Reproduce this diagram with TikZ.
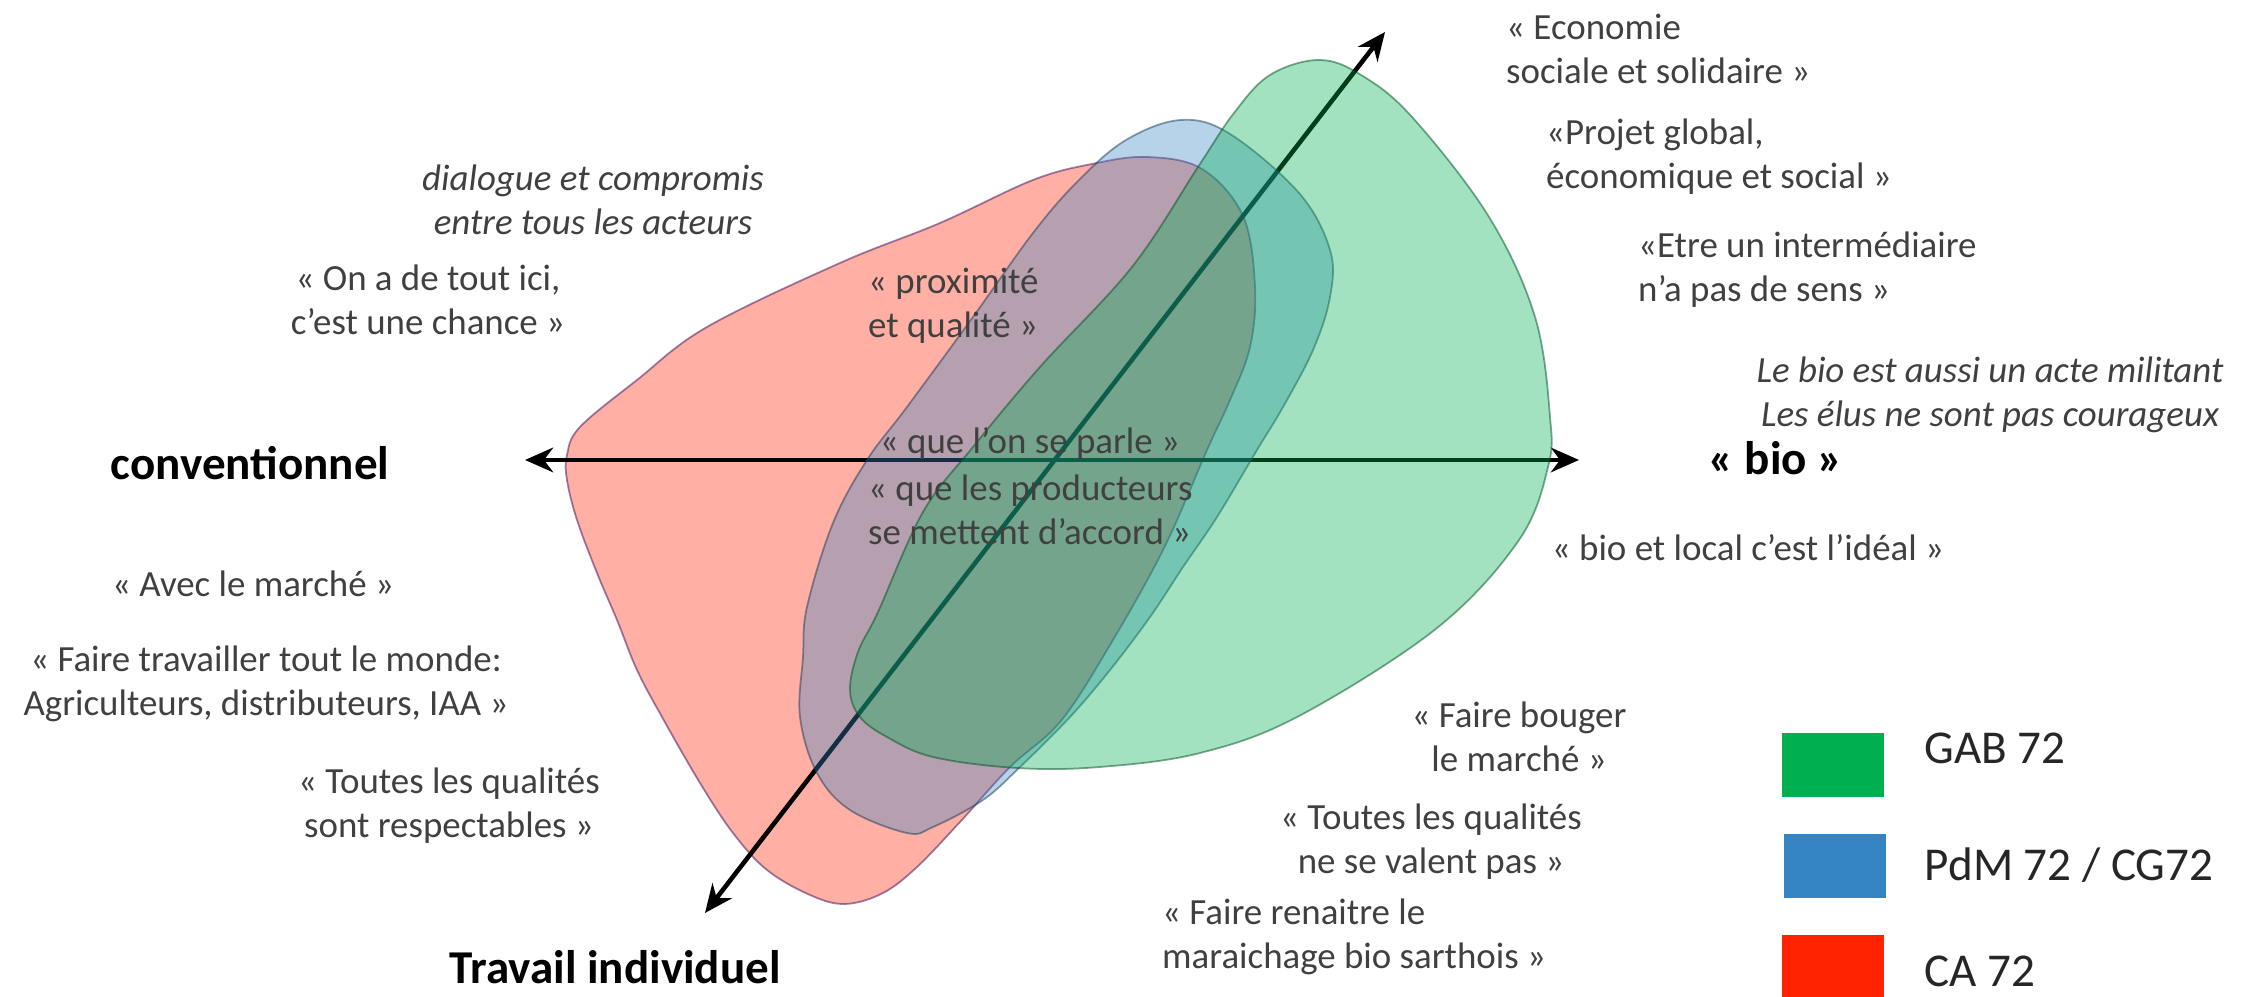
\documentclass[tikz,border=0pt]{standalone}
\usepackage{fontspec}
\setmainfont{Carlito}
\usetikzlibrary{arrows.meta}
\definecolor{gabgreen}{HTML}{00B050}
\definecolor{pdmblue}{HTML}{3584C4}
\definecolor{cared}{HTML}{FF2200}
\definecolor{txtgray}{HTML}{404040}
\tikzset{
    quote/.style={text=txtgray, font=\fontsize{10.5}{12.6}\selectfont, align=center, inner sep=1pt},
    axislabel/.style={font=\fontsize{13.4}{16}\selectfont\bfseries, inner sep=1pt},
    legendtext/.style={text=black!85, font=\fontsize{13.4}{16}\selectfont, anchor=west, inner sep=0pt},
    legendbox/.style={minimum width=1.02cm, minimum height=0.64cm, inner sep=0pt},
    blob/.style={fill opacity=0.36, draw opacity=0.5, line width=0.5pt},
    axis/.style={line width=1.3pt, {Stealth[length=8pt,width=7pt]}-{Stealth[length=8pt,width=7pt]}}
}

\begin{document}
\begin{tikzpicture}
    \useasboundingbox (0,0) rectangle (22.55,9.97);

    % CA 72
    \filldraw[blob, fill=cared, draw=cared!40!blue!60!black] plot[smooth cycle, tension=0.6] coordinates {
        (5.67,5.42) (5.80,5.70) (6.37,6.17) (7.07,6.70) (8.40,7.34) (9.40,7.74) (10.33,8.17)
        (10.92,8.33) (11.47,8.40) (12.02,8.28) (12.43,7.81) (12.55,7.10) (12.50,6.50) (12.30,5.97)
        (12.07,5.47) (11.63,4.47) (11.07,3.47) (10.60,2.75) (10.10,2.30) (9.60,1.75) (9.17,1.30)
        (8.83,1.04) (8.45,0.93) (8.10,1.02) (7.67,1.27) (7.33,1.64) (7.00,2.14) (6.62,2.80)
        (6.37,3.27) (6.17,3.77) (5.97,4.24) (5.77,4.77) (5.67,5.17)};

    % axes
    \coordinate (conv) at (5.25,5.37);
    \coordinate (bio) at (15.79,5.37);
    \coordinate (indiv) at (7.05,0.84);
    \coordinate (coll) at (13.85,9.65);
    \draw[axis] (conv) -- (bio);
    \draw[axis] (indiv) -- (coll);

    % PdM 72 / CG72
    \filldraw[blob, fill=pdmblue, draw=pdmblue!45!black] plot[smooth cycle, tension=0.6] coordinates {
        (11.81,8.77) (12.30,8.63) (12.99,8.04) (13.30,7.47) (13.30,7.00) (13.13,6.47) (12.83,5.90)
        (12.57,5.47) (12.17,4.80) (11.83,4.30) (11.50,3.80) (11.10,3.27) (10.70,2.80) (10.20,2.30)
        (9.83,1.97) (9.33,1.70) (9.07,1.64) (8.50,1.87) (8.17,2.24) (8.00,2.80) (8.03,3.40)
        (8.07,3.90) (8.33,4.74) (8.67,5.37) (9.07,5.90) (9.73,6.80) (10.33,7.64) (10.78,8.16)
        (11.26,8.57)};

    % GAB 72
    \filldraw[blob, fill=gabgreen, draw=gabgreen!45!black] plot[smooth cycle, tension=0.6] coordinates {
        (13.19,9.37) (13.61,9.22) (14.12,8.80) (14.89,7.80) (15.35,6.80) (15.50,5.80) (15.48,5.30)
        (15.19,4.57) (14.37,3.69) (12.99,2.81) (12.00,2.44) (11.00,2.30) (10.17,2.29) (9.33,2.40)
        (8.87,2.60) (8.60,2.80) (8.50,3.07) (8.58,3.45) (8.78,3.85) (9.23,4.85) (9.73,5.50)
        (10.40,6.30) (11.32,7.30) (11.98,8.30) (12.34,8.84) (12.70,9.22)};

    % axis labels
    \node[axislabel] (convlabel) at (2.50,5.34) {conventionnel};
    \node[axislabel] (biolabel) at (17.76,5.39) {« bio »};
    \node[axislabel] (indivlabel) at (6.15,0.30) {Travail individuel};

    % left side
    \node[quote, font=\fontsize{10.5}{12.6}\selectfont\itshape] (dialogue) at (5.93,7.97) {dialogue et compromis\\entre tous les acteurs};
    \node[quote] (tout) at (4.28,6.97) {« On a de tout ici,\\c’est une chance »};
    \node[quote] (marche) at (2.53,4.13) {« Avec le marché »};
    \node[quote] (monde) at (2.66,3.13) {« Faire travailler tout le monde:\\Agriculteurs, distributeurs, IAA »};
    \node[quote] (respect) at (4.49,1.91) {« Toutes les qualités\\sont respectables »};

    % centre
    \node[quote, anchor=west, align=left] (proxi) at (8.64,6.91) {« proximité\\et qualité »};
    \node[quote] (parle) at (10.30,5.54) {« que l’on se parle »};
    \node[quote, anchor=west, align=left] (accord) at (8.64,4.87) {« que les producteurs\\se mettent d’accord »};

    % right side
    \node[quote, anchor=west, align=left] (ess) at (15.02,9.48) {« Economie\\sociale et solidaire »};
    \node[quote, anchor=west, align=left] (projet) at (15.42,8.40) {«Projet global,\\économique et social »};
    \node[quote, anchor=west, align=left] (interm) at (16.34,7.27) {«Etre un intermédiaire\\ n’a pas de sens »};
    \node[quote, font=\fontsize{10.5}{12.6}\selectfont\itshape] (militant) at (19.90,6.02) {Le bio est aussi un acte militant\\Les élus ne sont pas courageux};
    \node[quote] (local) at (17.48,4.49) {« bio et local c’est l’idéal »};
    \node[quote] (bouger) at (15.19,2.60) {« Faire bouger\\le marché »};
    \node[quote] (valent) at (14.31,1.55) {« Toutes les qualités\\ne se valent pas »};
    \node[quote, anchor=west, align=left] (renaitre) at (11.58,0.60) {« Faire renaitre le\\maraichage bio sarthois »};

    % legend
    \node[legendbox, fill=gabgreen] (gabbox) at (18.33,2.32) {};
    \node[legendbox, fill=pdmblue] (pdmbox) at (18.35,1.31) {};
    \node[legendbox, fill=cared] (cabox) at (18.33,0.30) {};
    \node[legendtext] (gab) at (19.24,2.49) {GAB 72};
    \node[legendtext] (pdm) at (19.24,1.32) {PdM 72 / CG72};
    \node[legendtext] (ca) at (19.24,0.26) {CA 72};
\end{tikzpicture}
\end{document}
